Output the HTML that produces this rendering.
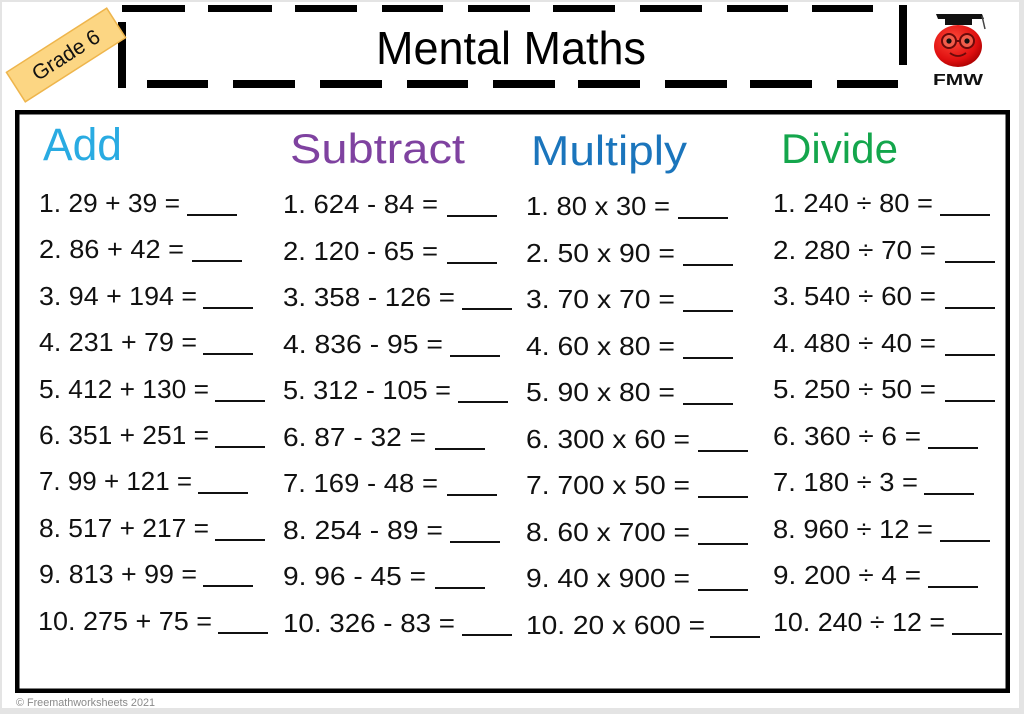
<!DOCTYPE html>
<html>
<head>
<meta charset="utf-8">
<style>
  html,body{margin:0;padding:0;background:#e6e6e6;}
  svg{display:block;}
  text{font-family:"Liberation Sans","DejaVu Sans",sans-serif;}
</style>
</head>
<body>
<svg width="1024" height="714" viewBox="0 0 1024 714" xmlns="http://www.w3.org/2000/svg">
  <defs>
    <radialGradient id="ap" cx="0.4" cy="0.35" r="0.7">
      <stop offset="0" stop-color="#ff4a3a"/>
      <stop offset="0.7" stop-color="#e01010"/>
      <stop offset="1" stop-color="#a80000"/>
    </radialGradient>
  </defs>
  <rect x="0" y="0" width="1024" height="714" fill="#e4e4e4"/>
  <rect x="2" y="2" width="1017" height="706" fill="#ffffff"/>

  <!-- Header dashed frame -->
  <g fill="#000">
    <!-- top dashes -->
    <rect x="122" y="5" width="63" height="7"/>
    <rect x="208" y="5" width="64" height="7"/>
    <rect x="295" y="5" width="62" height="7"/>
    <rect x="382" y="5" width="61" height="7"/>
    <rect x="468" y="5" width="62" height="7"/>
    <rect x="553" y="5" width="62" height="7"/>
    <rect x="640" y="5" width="62" height="7"/>
    <rect x="727" y="5" width="61" height="7"/>
    <rect x="812" y="5" width="61" height="7"/>
    <!-- bottom dashes -->
    <rect x="147" y="80" width="61" height="8"/>
    <rect x="233" y="80" width="62" height="8"/>
    <rect x="320" y="80" width="62" height="8"/>
    <rect x="407" y="80" width="61" height="8"/>
    <rect x="493" y="80" width="62" height="8"/>
    <rect x="578" y="80" width="62" height="8"/>
    <rect x="665" y="80" width="62" height="8"/>
    <rect x="750" y="80" width="62" height="8"/>
    <rect x="837" y="80" width="61" height="8"/>
    <!-- side bars -->
    <rect x="118" y="22" width="8" height="66"/>
    <rect x="899" y="5" width="8" height="60"/>
  </g>
  <text x="376" y="64" font-size="46" fill="#000" textLength="270" lengthAdjust="spacingAndGlyphs">Mental Maths</text>

  <!-- Grade badge -->
  <g transform="translate(66,55) rotate(-32.6)">
    <rect x="-59.5" y="-17.5" width="119" height="35" fill="#fcd683" stroke="#eeb54c" stroke-width="1.5"/>
    <text x="0" y="7" font-size="21" text-anchor="middle" fill="#111" textLength="76" lengthAdjust="spacingAndGlyphs">Grade 6</text>
  </g>

  <!-- Logo -->
  <g>
    <ellipse cx="958" cy="46" rx="24" ry="21" fill="url(#ap)"/>
    <rect x="945" y="17" width="27" height="8" fill="#111"/>
    <polygon points="936,14 982,14 984,19 938,19" fill="#111"/>
    <line x1="982" y1="16" x2="985" y2="29" stroke="#444" stroke-width="1.5"/>
    <circle cx="949" cy="41" r="7" fill="#f25c4a" stroke="#6a0a0a" stroke-width="2"/>
    <circle cx="967" cy="41" r="7" fill="#f25c4a" stroke="#6a0a0a" stroke-width="2"/>
    <line x1="956" y1="41" x2="960" y2="41" stroke="#6a0a0a" stroke-width="2"/>
    <circle cx="949" cy="41" r="2.6" fill="#111"/>
    <circle cx="967" cy="41" r="2.6" fill="#111"/>
    <path d="M950 53 Q958 59 966 53" fill="none" stroke="#6a0a0a" stroke-width="1.8"/>
    <text x="933" y="85" font-size="16" font-weight="bold" fill="#111" textLength="50" lengthAdjust="spacingAndGlyphs">FMW</text>
  </g>

  <!-- Main box -->
  <rect x="17.25" y="112.25" width="990.5" height="578.5" fill="none" stroke="#000" stroke-width="4.5"/>

  <!-- Headings -->
  <text x="43" y="160" font-size="45" fill="#29abe2" textLength="79" lengthAdjust="spacingAndGlyphs">Add</text>
  <text x="290" y="163" font-size="42" fill="#7f42a0" textLength="175" lengthAdjust="spacingAndGlyphs">Subtract</text>
  <text x="531" y="165" font-size="42" fill="#1b75bc" textLength="156" lengthAdjust="spacingAndGlyphs">Multiply</text>
  <text x="781" y="163" font-size="42" fill="#14a64c" textLength="117" lengthAdjust="spacingAndGlyphs">Divide</text>

  <!-- Column 1 -->
  <g font-size="26" fill="#111">
    <text x="39" y="212" textLength="141" lengthAdjust="spacingAndGlyphs">1. 29 + 39 =</text>
    <text x="39" y="258" textLength="145" lengthAdjust="spacingAndGlyphs">2. 86 + 42 =</text>
    <text x="39" y="305" textLength="158" lengthAdjust="spacingAndGlyphs">3. 94 + 194 =</text>
    <text x="39" y="351" textLength="158" lengthAdjust="spacingAndGlyphs">4. 231 + 79 =</text>
    <text x="39" y="398" textLength="170" lengthAdjust="spacingAndGlyphs">5. 412 + 130 =</text>
    <text x="39" y="444" textLength="170" lengthAdjust="spacingAndGlyphs">6. 351 + 251 =</text>
    <text x="39" y="490" textLength="153" lengthAdjust="spacingAndGlyphs">7. 99 + 121 =</text>
    <text x="39" y="537" textLength="170" lengthAdjust="spacingAndGlyphs">8. 517 + 217 =</text>
    <text x="39" y="583" textLength="158" lengthAdjust="spacingAndGlyphs">9. 813 + 99 =</text>
    <text x="38" y="630" textLength="174" lengthAdjust="spacingAndGlyphs">10. 275 + 75 =</text>
  </g>
  <g stroke="#111" stroke-width="2">
    <line x1="187" y1="215" x2="237" y2="215"/>
    <line x1="192" y1="261" x2="242" y2="261"/>
    <line x1="203" y1="308" x2="253" y2="308"/>
    <line x1="203" y1="354" x2="253" y2="354"/>
    <line x1="215" y1="401" x2="265" y2="401"/>
    <line x1="215" y1="447" x2="265" y2="447"/>
    <line x1="198" y1="493" x2="248" y2="493"/>
    <line x1="215" y1="540" x2="265" y2="540"/>
    <line x1="203" y1="586" x2="253" y2="586"/>
    <line x1="218" y1="633" x2="268" y2="633"/>
  </g>

  <!-- Column 2 -->
  <g font-size="26" fill="#111">
    <text x="283" y="213" textLength="155" lengthAdjust="spacingAndGlyphs">1. 624 - 84 =</text>
    <text x="283" y="260" textLength="155" lengthAdjust="spacingAndGlyphs">2. 120 - 65 =</text>
    <text x="283" y="306" textLength="172" lengthAdjust="spacingAndGlyphs">3. 358 - 126 =</text>
    <text x="283" y="353" textLength="160" lengthAdjust="spacingAndGlyphs">4. 836 - 95 =</text>
    <text x="283" y="399" textLength="168" lengthAdjust="spacingAndGlyphs">5. 312 - 105 =</text>
    <text x="283" y="446" textLength="143" lengthAdjust="spacingAndGlyphs">6. 87 - 32 =</text>
    <text x="283" y="492" textLength="155" lengthAdjust="spacingAndGlyphs">7. 169 - 48 =</text>
    <text x="283" y="539" textLength="160" lengthAdjust="spacingAndGlyphs">8. 254 - 89 =</text>
    <text x="283" y="585" textLength="143" lengthAdjust="spacingAndGlyphs">9. 96 - 45 =</text>
    <text x="283" y="632" textLength="172" lengthAdjust="spacingAndGlyphs">10. 326 - 83 =</text>
  </g>
  <g stroke="#111" stroke-width="2">
    <line x1="447" y1="216" x2="497" y2="216"/>
    <line x1="447" y1="263" x2="497" y2="263"/>
    <line x1="462" y1="309" x2="512" y2="309"/>
    <line x1="450" y1="356" x2="500" y2="356"/>
    <line x1="458" y1="402" x2="508" y2="402"/>
    <line x1="435" y1="449" x2="485" y2="449"/>
    <line x1="447" y1="495" x2="497" y2="495"/>
    <line x1="450" y1="542" x2="500" y2="542"/>
    <line x1="435" y1="588" x2="485" y2="588"/>
    <line x1="462" y1="635" x2="512" y2="635"/>
  </g>

  <!-- Column 3 -->
  <g font-size="26" fill="#111">
    <text x="526" y="215" textLength="144" lengthAdjust="spacingAndGlyphs">1. 80 x 30 =</text>
    <text x="526" y="262" textLength="149" lengthAdjust="spacingAndGlyphs">2. 50 x 90 =</text>
    <text x="526" y="308" textLength="149" lengthAdjust="spacingAndGlyphs">3. 70 x 70 =</text>
    <text x="526" y="355" textLength="149" lengthAdjust="spacingAndGlyphs">4. 60 x 80 =</text>
    <text x="526" y="401" textLength="149" lengthAdjust="spacingAndGlyphs">5. 90 x 80 =</text>
    <text x="526" y="448" textLength="164" lengthAdjust="spacingAndGlyphs">6. 300 x 60 =</text>
    <text x="526" y="494" textLength="164" lengthAdjust="spacingAndGlyphs">7. 700 x 50 =</text>
    <text x="526" y="541" textLength="164" lengthAdjust="spacingAndGlyphs">8. 60 x 700 =</text>
    <text x="526" y="587" textLength="164" lengthAdjust="spacingAndGlyphs">9. 40 x 900 =</text>
    <text x="526" y="634" textLength="179" lengthAdjust="spacingAndGlyphs">10. 20 x 600 =</text>
  </g>
  <g stroke="#111" stroke-width="2">
    <line x1="678" y1="218" x2="728" y2="218"/>
    <line x1="683" y1="265" x2="733" y2="265"/>
    <line x1="683" y1="311" x2="733" y2="311"/>
    <line x1="683" y1="358" x2="733" y2="358"/>
    <line x1="683" y1="404" x2="733" y2="404"/>
    <line x1="698" y1="451" x2="748" y2="451"/>
    <line x1="698" y1="497" x2="748" y2="497"/>
    <line x1="698" y1="544" x2="748" y2="544"/>
    <line x1="698" y1="590" x2="748" y2="590"/>
    <line x1="710" y1="637" x2="760" y2="637"/>
  </g>

  <!-- Column 4 -->
  <g font-size="26" fill="#111">
    <text x="773" y="212" textLength="160" lengthAdjust="spacingAndGlyphs">1. 240 ÷ 80 =</text>
    <text x="773" y="259" textLength="163" lengthAdjust="spacingAndGlyphs">2. 280 ÷ 70 =</text>
    <text x="773" y="305" textLength="163" lengthAdjust="spacingAndGlyphs">3. 540 ÷ 60 =</text>
    <text x="773" y="352" textLength="163" lengthAdjust="spacingAndGlyphs">4. 480 ÷ 40 =</text>
    <text x="773" y="398" textLength="163" lengthAdjust="spacingAndGlyphs">5. 250 ÷ 50 =</text>
    <text x="773" y="445" textLength="148" lengthAdjust="spacingAndGlyphs">6. 360 ÷ 6 =</text>
    <text x="773" y="491" textLength="145" lengthAdjust="spacingAndGlyphs">7. 180 ÷ 3 =</text>
    <text x="773" y="538" textLength="160" lengthAdjust="spacingAndGlyphs">8. 960 ÷ 12 =</text>
    <text x="773" y="584" textLength="148" lengthAdjust="spacingAndGlyphs">9. 200 ÷ 4 =</text>
    <text x="773" y="631" textLength="172" lengthAdjust="spacingAndGlyphs">10. 240 ÷ 12 =</text>
  </g>
  <g stroke="#111" stroke-width="2">
    <line x1="940" y1="215" x2="990" y2="215"/>
    <line x1="945" y1="262" x2="995" y2="262"/>
    <line x1="945" y1="308" x2="995" y2="308"/>
    <line x1="945" y1="355" x2="995" y2="355"/>
    <line x1="945" y1="401" x2="995" y2="401"/>
    <line x1="928" y1="448" x2="978" y2="448"/>
    <line x1="924" y1="494" x2="974" y2="494"/>
    <line x1="940" y1="541" x2="990" y2="541"/>
    <line x1="928" y1="587" x2="978" y2="587"/>
    <line x1="952" y1="634" x2="1002" y2="634"/>
  </g>

  <!-- Footer -->
  <text x="16" y="706" font-size="11" fill="#8a8a8a" textLength="139" lengthAdjust="spacingAndGlyphs">© Freemathworksheets 2021</text>
</svg>
</body>
</html>
